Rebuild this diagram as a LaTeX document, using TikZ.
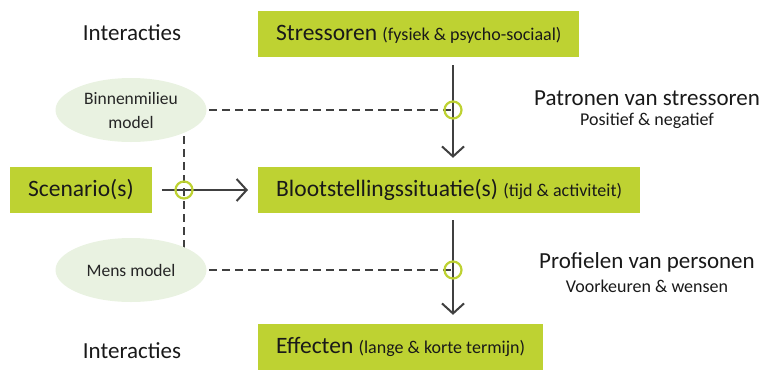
\documentclass[tikz,border=0pt]{standalone}
\usepackage{fontspec}
\setmainfont{Carlito}
\usetikzlibrary{arrows.meta,positioning,backgrounds,shapes.geometric}
\definecolor{lime}{RGB}{190,210,50}
\definecolor{palegreen}{RGB}{233,242,225}
\definecolor{darkline}{RGB}{64,64,64}
\newcommand{\subtxt}[1]{{\fontsize{18}{21}\selectfont #1}}
\tikzset{
    green-box/.style = {fill=lime, rectangle, inner xsep=18pt, minimum height=46pt, text=black!90, font=\fontsize{23.5}{27}\selectfont},
    model-ellipse/.style = {fill=palegreen, ellipse, minimum width=151pt, minimum height=64pt, inner sep=0pt, align=center, text=black!85, font=\fontsize{17.5}{24}\selectfont},
    plain-text/.style = {text=black!90, font=\fontsize{23}{27}\selectfont},
    small-text/.style = {text=black!90, font=\fontsize{18}{21}\selectfont},
    flow/.style = {draw=darkline, line width=2pt, -{Straight Barb[length=10pt,width=22pt,line width=2pt]}},
    model-link/.style = {draw=darkline, line width=2pt, dash pattern=on 8pt off 5pt},
    join-ring/.style = {circle, draw=lime, line width=2.2pt, minimum size=17pt, inner sep=0pt},
}

\begin{document}
\begin{tikzpicture}[x=1pt, y=-1pt]
\useasboundingbox (0,0) rectangle (763,370);

% main chain
\node[green-box, anchor=west] (stress) at (258,34) {Stressoren \subtxt{(fysiek \& psycho-sociaal)}};
\node[green-box, anchor=west] (bloot) at (258,190) {Blootstellingssituatie(s) \subtxt{(tijd \& activiteit)}};
\node[green-box, anchor=west] (effect) at (258,347) {Effecten \subtxt{(lange \& korte termijn)}};
\node[green-box, anchor=west] (scen) at (10,190) {Scenario(s)};

% models
\node[model-ellipse] (binnen) at (131,110) {Binnenmilieu\\model};
\node[model-ellipse] (mens) at (131,270) {Mens model};

% side texts
\node[plain-text] (inter-top) at (132,33) {Interacties};
\node[plain-text] (inter-bot) at (132,351) {Interacties};
\node[plain-text] (pat) at (647,98) {Patronen van stressoren};
\node[small-text, below=1pt of pat] (pat-sub) {Positief \& negatief};
\node[plain-text] (prof) at (647,262) {Profielen van personen};
\node[small-text, below=1pt of prof] (prof-sub) {Voorkeuren \& wensen};

\coordinate (ax) at (453,0);
\coordinate (vx) at (184,0);

% dashed links behind the ellipses
\begin{pgfonlayer}{background}
\draw[model-link] (binnen.center) -- (binnen.center -| ax);
\draw[model-link] (mens.center) -- (mens.center -| ax);
\draw[model-link] (vx |- binnen.center) -- (vx |- mens.center);
\end{pgfonlayer}

% arrows
\draw[flow, shorten <=8pt, shorten >=9pt] (ax |- stress.south) -- (ax |- bloot.north);
\draw[flow, shorten <=7pt, shorten >=9pt] (ax |- bloot.south) -- (ax |- effect.north);
\draw[flow, shorten <=10pt, shorten >=10pt] (scen.east) -- (bloot.west);

% rings
\node[join-ring] (ring-binnen) at (binnen.center -| ax) {};
\node[join-ring] (ring-mens) at (mens.center -| ax) {};
\node[join-ring] (ring-scen) at (vx |- scen) {};
\end{tikzpicture}
\end{document}
